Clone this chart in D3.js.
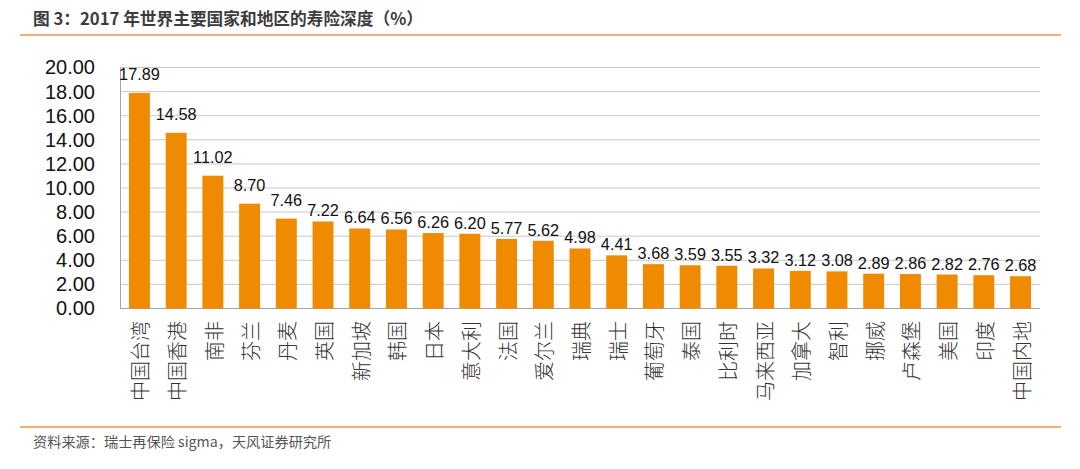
<!DOCTYPE html>
<html><head><meta charset="utf-8">
<script src="https://cdn.jsdelivr.net/npm/d3@7"></script>
<style>body{margin:0;background:#fff}</style>
</head><body>
<svg id="c" width="1080" height="469"></svg>
<script>
const categories = ["中国台湾","中国香港","南非","芬兰","丹麦","英国","新加坡","韩国","日本","意大利","法国","爱尔兰","瑞典","瑞士","葡萄牙","泰国","比利时","马来西亚","加拿大","智利","挪威","卢森堡","美国","印度","中国内地"];
const values = [17.89,14.58,11.02,8.70,7.46,7.22,6.64,6.56,6.26,6.20,5.77,5.62,4.98,4.41,3.68,3.59,3.55,3.32,3.12,3.08,2.89,2.86,2.82,2.76,2.68];
const yTicks = [0,2,4,6,8,10,12,14,16,18,20];
const title = "图 3：2017 年世界主要国家和地区的寿险深度（%）";
const source = "资料来源：瑞士再保险 sigma，天风证券研究所";

(function(){
const svg = d3.select("#c");
const cjk = "'Noto Sans CJK SC','Noto Sans',sans-serif";
const lat = "'Liberation Sans',Arial,sans-serif";

// header
svg.append("text").attr("x",33).attr("y",25).attr("font-family",cjk).attr("font-weight","bold")
  .attr("font-size",16.7).attr("fill","#3c3c3c").text(title);
svg.append("line").attr("x1",20).attr("x2",1061).attr("y1",35).attr("y2",35).attr("stroke","#F0924A").attr("stroke-width",1.5);
svg.append("line").attr("x1",20).attr("x2",1061).attr("y1",427).attr("y2",427).attr("stroke","#F0924A").attr("stroke-width",1.5);
svg.append("text").attr("x",33).attr("y",447).attr("font-family",cjk)
  .attr("font-size",14.2).attr("fill","#555").text(source);

const pl=120,pr=1040,pt=67.5,pb=308.5;
const x = d3.scaleBand().domain(categories).range([pl,pr]).paddingInner(0.43).paddingOuter(0.245);
const y = d3.scaleLinear().domain([0,20]).range([pb,pt]);

// grid
svg.append("g").selectAll("line").data(yTicks.filter(d=>d>0)).join("line")
  .attr("x1",pl).attr("x2",pr).attr("y1",d=>y(d)).attr("y2",d=>y(d))
  .attr("stroke","#c8c8c8").attr("stroke-width",1);

// y axis
const ya = svg.append("g").attr("transform",`translate(${pl},0)`)
  .call(d3.axisLeft(y).tickValues(yTicks).tickFormat(d3.format(".2f")).tickSize(0).tickPadding(25));
ya.select(".domain").attr("stroke","#a6a6a6");
ya.selectAll("text").attr("font-family",lat).attr("font-size",20).attr("fill","#111");

// x axis line
svg.append("line").attr("x1",pl).attr("x2",pr).attr("y1",pb).attr("y2",pb).attr("stroke","#a6a6a6");

// bars
svg.append("g").selectAll("rect").data(values).join("rect")
  .attr("x",(d,i)=>x(categories[i])).attr("width",x.bandwidth())
  .attr("y",d=>y(d)).attr("height",d=>pb-y(d)).attr("fill","#F08A00");

// value labels
svg.append("g").selectAll("text").data(values).join("text")
  .attr("x",(d,i)=>x(categories[i])+x.bandwidth()/2).attr("y",d=>y(d)-(d>7.3?13:5))
  .attr("text-anchor","middle").attr("font-family",lat).attr("font-size",16.3).attr("fill","#111")
  .text(d=>d.toFixed(2));

// x labels (rotated, reading bottom to top)
svg.append("g").selectAll("text").data(categories).join("text")
  .attr("transform",d=>`translate(${x(d)+x.bandwidth()/2},321) rotate(-90)`)
  .attr("dy","0.45em").attr("text-anchor","end")
  .attr("font-family",cjk).attr("font-weight",300).attr("font-size",20).attr("fill","#333")
  .text(d=>d);
})();
</script>
</body></html>
